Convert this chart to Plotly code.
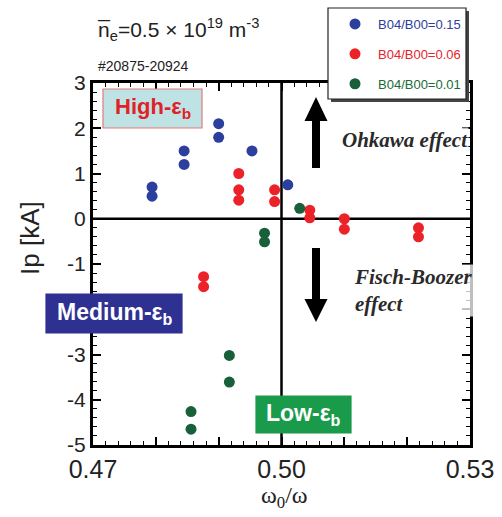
import plotly.graph_objects as go

# ---------------- data ----------------
series_names = ["B04/B00=0.15", "B04/B00=0.06", "B04/B00=0.01"]
blue_x = [0.4794, 0.4794, 0.4845, 0.4845, 0.4900, 0.4900, 0.4953, 0.5010]
blue_y = [0.70, 0.50, 1.50, 1.20, 2.10, 1.80, 1.50, 0.75]
red_x = [0.4932, 0.4932, 0.4932, 0.4989, 0.4989, 0.5045, 0.5045, 0.5100, 0.5100, 0.5218, 0.5218, 0.4876, 0.4876]
red_y = [1.00, 0.64, 0.41, 0.64, 0.38, 0.19, 0.02, 0.00, -0.23, -0.20, -0.40, -1.28, -1.50]
green_x = [0.5029, 0.4973, 0.4973, 0.4917, 0.4917, 0.4856, 0.4856]
green_y = [0.23, -0.32, -0.51, -3.02, -3.61, -4.26, -4.65]
x_tickvals = [0.47, 0.48, 0.49, 0.50, 0.51, 0.52, 0.53]
x_ticktext = ["0.47", "", "", "0.50", "", "", "0.53"]
y_tickvals = [-5, -4, -3, -2, -1, 0, 1, 2, 3]
y_ticktext = ["-5", "-4", "-3", "", "-1", "0", "1", "2", "3"]

marker_colors = ["#2c3f9e", "#ec2229", "#18603a"]
text_colors = ["#2e3d9a", "#e8232a", "#1a6b35"]

W, H = 502, 517
ML, MR, MT, MB = 93, 32, 83, 72
PW, PH = W - ML - MR, H - MT - MB
X0, X1 = 0.47, 0.53
Y0, Y1 = -5, 3


def px2x(px):
    return X0 + (px - ML) / PW * (X1 - X0)


def py2y(py):
    return Y1 - (py - MT) / PH * (Y1 - Y0)


def ppx(px):  # pixel -> paper x
    return (px - ML) / PW


def ppy(py):  # pixel -> paper y
    return (H - MB - py) / PH


fig = go.Figure()
for name, xs, ys, mc, tc, g in zip(series_names, [blue_x, red_x, green_x], [blue_y, red_y, green_y],
                                    marker_colors, text_colors, ["a", "b", "c"]):
    fig.add_trace(go.Scatter(
        x=xs, y=ys, mode="markers", legendgroup=g,
        name=f"<span style='color:{tc}'>{name}</span>",
        marker=dict(size=11, color=mc, line=dict(width=0)),
    ))

# crosshair lines
fig.add_shape(type="line", x0=0.50, x1=0.50, y0=Y0, y1=Y1, xref="x", yref="y",
              line=dict(color="black", width=2.5), layer="below")
fig.add_shape(type="line", x0=X0, x1=X1, y0=0, y1=0, xref="x", yref="y",
              line=dict(color="black", width=2.5), layer="below")

# arrows
ax_c = px2x(316)
hw = px2x(316 + 11.5) - ax_c
sw = px2x(316 + 4) - ax_c
up_tip, up_base, up_bot = py2y(97), py2y(121), py2y(168)
fig.add_shape(type="path", xref="x", yref="y", fillcolor="black", line=dict(width=0),
              path=(f"M {ax_c-sw} {up_bot} L {ax_c-sw} {up_base} L {ax_c-hw} {up_base} L {ax_c} {up_tip} "
                    f"L {ax_c+hw} {up_base} L {ax_c+sw} {up_base} L {ax_c+sw} {up_bot} Z"))
dn_top, dn_base, dn_tip = py2y(248), py2y(299), py2y(322)
fig.add_shape(type="path", xref="x", yref="y", fillcolor="black", line=dict(width=0),
              path=(f"M {ax_c-sw} {dn_top} L {ax_c-sw} {dn_base} L {ax_c-hw} {dn_base} L {ax_c} {dn_tip} "
                    f"L {ax_c+hw} {dn_base} L {ax_c+sw} {dn_base} L {ax_c+sw} {dn_top} Z"))

# legend frame (shadow + white box with border) drawn as shapes
lx0, lx1, ly0, ly1 = 328, 466, 8, 99
fig.add_shape(type="rect", xref="paper", yref="paper",
              x0=ppx(lx0 + 3), x1=ppx(lx1 + 3), y0=ppy(ly1 + 3), y1=ppy(ly0 + 3),
              fillcolor="#444", line=dict(width=0), layer="above")
fig.add_shape(type="rect", xref="paper", yref="paper",
              x0=ppx(lx0), x1=ppx(lx1), y0=ppy(ly1), y1=ppy(ly0),
              fillcolor="white", line=dict(color="#222", width=1.2), layer="above")


# labelled boxes
def box(x0p, x1p, y0p, y1p, fill, border, text, tcolor, size):
    fig.add_shape(type="rect", xref="paper", yref="paper", x0=ppx(x0p), x1=ppx(x1p), y0=ppy(y1p), y1=ppy(y0p),
                  fillcolor=fill, line=dict(color=border, width=1.2), layer="above")
    fig.add_annotation(x=ppx((x0p + x1p) / 2), y=ppy((y0p + y1p) / 2), xref="paper", yref="paper",
                       text=text, showarrow=False, xanchor="center", yanchor="middle",
                       font=dict(family="Liberation Sans, Arial", size=size, color=tcolor, weight="bold"))


box(103, 202, 89, 128, "#bfe3e4", "#e57a7a", "High-ε<sub>b</sub>", "#e02228", 22)
box(46, 182, 294, 333, "#2e3192", "#2e3192", "Medium-ε<sub>b</sub>", "white", 23)
box(256, 351, 396, 433, "#1a9a4b", "#1a9a4b", "Low-ε<sub>b</sub>", "white", 23)

serif_bi = dict(family="Liberation Serif, Times New Roman", size=21, color="#2a2a2a", weight="bold", style="italic")
fig.add_annotation(x=ppx(341), y=ppy(140), xref="paper", yref="paper", text="Ohkawa effect",
                   showarrow=False, xanchor="left", yanchor="middle", font=serif_bi,
                   bgcolor="rgba(255,255,255,0.75)", borderpad=0)
fig.add_annotation(x=ppx(353), y=ppy(290), xref="paper", yref="paper", text="Fisch-Boozer<br>effect",
                   showarrow=False, xanchor="left", yanchor="middle", align="left", font=serif_bi,
                   bgcolor="rgba(255,255,255,0.75)", borderpad=0)

# titles / notes
fig.add_annotation(x=ppx(95), y=ppy(29), xref="paper", yref="paper", xanchor="left", yanchor="middle",
                   text="n\u0305<sub>e</sub>=0.5 × 10<sup>19</sup> m<sup>-3</sup>", showarrow=False,
                   font=dict(family="Liberation Sans, Arial", size=21, color="#222"))
fig.add_annotation(x=ppx(96), y=ppy(66), xref="paper", yref="paper", xanchor="left", yanchor="middle",
                   text="#20875-20924", showarrow=False,
                   font=dict(family="Liberation Sans Narrow, Liberation Sans, Arial", size=14, color="#222"))
fig.add_annotation(x=ppx(30), y=ppy(238), xref="paper", yref="paper", textangle=-90,
                   xanchor="center", yanchor="middle",
                   text="Ip [kA]", showarrow=False,
                   font=dict(family="Liberation Sans, Arial", size=26, color="#222"))
fig.add_annotation(x=ppx(284), y=ppy(497), xref="paper", yref="paper", xanchor="center", yanchor="middle",
                   text="ω<sub>0</sub>/ω", showarrow=False,
                   font=dict(family="Liberation Serif, Times New Roman", size=24, color="#222"))

axis_common = dict(showline=True, linecolor="black", linewidth=3, mirror="ticks", ticks="inside",
                   tickcolor="black", tickwidth=1.5, ticklen=8, showgrid=False, zeroline=False)
fig.update_xaxes(range=[X0, X1], tickmode="array", tickvals=x_tickvals, ticktext=x_ticktext,
                 tickfont=dict(family="Liberation Sans, Arial", size=25, color="#222"),
                 minor=dict(tick0=0.47, dtick=0.002, ticks="inside", ticklen=4, tickcolor="black", tickwidth=1),
                 **axis_common)
fig.update_yaxes(range=[Y0, Y1], tickmode="array", tickvals=y_tickvals, ticktext=y_ticktext,
                 tickfont=dict(family="Liberation Sans, Arial", size=21, color="#222"),
                 minor=dict(tick0=0, dtick=0.2, ticks="inside", ticklen=4, tickcolor="black", tickwidth=1),
                 **axis_common)

fig.update_layout(
    width=W, height=H, margin=dict(l=ML, r=MR, t=MT, b=MB, autoexpand=False),
    paper_bgcolor="white", plot_bgcolor="white",
    showlegend=True,
    legend=dict(x=ppx(lx0 + 4), y=ppy(ly0 + 1), xanchor="left", yanchor="top",
                bgcolor="rgba(0,0,0,0)", borderwidth=0, tracegroupgap=10,
                font=dict(family="Liberation Sans Narrow, Liberation Sans, Arial", size=13),
                itemwidth=36),
)

fig.write_html("out.html")
